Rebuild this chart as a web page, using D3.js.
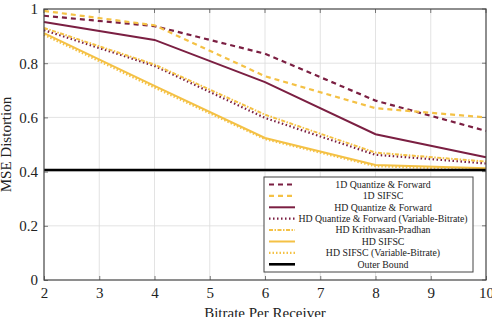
<!DOCTYPE html>
<html>
<head>
<meta charset="utf-8">
<script src="https://cdn.jsdelivr.net/npm/d3@7"></script>
<style>
  body { margin: 0; background: #fff; }
  svg text { font-family: "Liberation Serif", "DejaVu Serif", serif; fill: #222; }
</style>
</head>
<body>
<div id="chart"></div>
<script>
// bitrate values (x)
const bitrates = [2, 4, 6, 8, 10];
const xTicks = [2, 3, 4, 5, 6, 7, 8, 9, 10];
const yTicks = [0, 0.2, 0.4, 0.6, 0.8, 1];

// series values
const qf1d = [0.975, 0.937, 0.835, 0.662, 0.55];
const sifsc1d = [0.993, 0.94, 0.752, 0.634, 0.6];
const qfHd = [0.952, 0.886, 0.73, 0.538, 0.453];
const qfHdVb = [0.922, 0.79, 0.598, 0.462, 0.43];
const kpHd = [0.93, 0.795, 0.61, 0.47, 0.437];
const sifscHd = [0.911, 0.716, 0.524, 0.424, 0.412];
const sifscHdVb = [0.905, 0.71, 0.52, 0.42, 0.407];
const outerBound = [0.406, 0.406, 0.406, 0.406, 0.406];

const red = "#7b1f42", yellow = "#f4c145";

const series = [
  {name: "1D Quantize & Forward", values: qf1d, color: red, dash: "5,4", w: 2.2},
  {name: "1D SIFSC", values: sifsc1d, color: yellow, dash: "5,4", w: 2.2},
  {name: "HD Quantize & Forward", values: qfHd, color: red, dash: null, w: 2},
  {name: "HD Quantize & Forward (Variable-Bitrate)", values: qfHdVb, color: red, dash: "1.5,2.5", w: 2.2},
  {name: "HD Krithvasan-Pradhan", values: kpHd, color: yellow, dash: "4,1.5,1.5,1.5", w: 2},
  {name: "HD SIFSC", values: sifscHd, color: yellow, dash: null, w: 2},
  {name: "HD SIFSC (Variable-Bitrate)", values: sifscHdVb, color: yellow, dash: "1.5,2", w: 2.2},
  {name: "Outer Bound", values: outerBound, color: "#000", dash: null, w: 2.6}
];

const W = 492, H = 317;
const margin = {top: 9, right: 6, bottom: 37, left: 44};
const width = W - margin.left - margin.right;
const height = H - margin.top - margin.bottom;
const serif = "Liberation Serif, DejaVu Serif, serif";

const svg = d3.select("#chart").append("svg")
    .attr("width", W)
    .attr("height", H)
  .append("g")
    .attr("transform", "translate(" + margin.left + "," + margin.top + ")");

const x = d3.scaleLinear().domain([2, 10]).range([0, width]);
const y = d3.scaleLinear().domain([0, 1]).range([height, 0]);

// grid
svg.append("g").selectAll("line.vg")
    .data(xTicks.slice(1, -1))
    .join("line")
    .attr("x1", d => x(d)).attr("x2", d => x(d))
    .attr("y1", 0).attr("y2", height)
    .attr("stroke", "#dcdcdc").attr("stroke-width", 0.8);
svg.append("g").selectAll("line.hg")
    .data(yTicks.slice(1, -1))
    .join("line")
    .attr("x1", 0).attr("x2", width)
    .attr("y1", d => y(d)).attr("y2", d => y(d))
    .attr("stroke", "#dcdcdc").attr("stroke-width", 0.8);

// axes
const xAxis = d3.axisBottom(x).tickValues(xTicks).tickSize(-4).tickPadding(7).tickFormat(d3.format("d"));
const yAxis = d3.axisLeft(y).tickValues(yTicks).tickSize(-4).tickPadding(6).tickFormat(d => d === 0 || d === 1 ? d : d.toFixed(1));

svg.append("g")
    .attr("transform", "translate(0," + height + ")")
    .call(xAxis)
    .attr("font-family", serif)
    .attr("font-size", 15)
    .call(g => g.select(".domain").remove())
    .call(g => g.selectAll(".tick line").attr("stroke", "#777"))
    .call(g => g.selectAll("text").attr("fill", "#222"));

svg.append("g")
    .call(yAxis)
    .attr("font-family", serif)
    .attr("font-size", 15)
    .call(g => g.select(".domain").remove())
    .call(g => g.selectAll(".tick line").attr("stroke", "#777"))
    .call(g => g.selectAll("text").attr("fill", "#222"));

// top/right ticks
svg.append("g").selectAll("line")
    .data(xTicks)
    .join("line")
    .attr("x1", d => x(d)).attr("x2", d => x(d))
    .attr("y1", 0).attr("y2", 4)
    .attr("stroke", "#777");
svg.append("g").selectAll("line")
    .data(yTicks)
    .join("line")
    .attr("x1", width).attr("x2", width - 4)
    .attr("y1", d => y(d)).attr("y2", d => y(d))
    .attr("stroke", "#777");

// lines
const line = d3.line()
    .x((d, i) => x(bitrates[i]))
    .y(d => y(d));

svg.append("g").selectAll("path")
    .data(series)
    .join("path")
    .attr("fill", "none")
    .attr("stroke", d => d.color)
    .attr("stroke-width", d => d.w)
    .attr("stroke-dasharray", d => d.dash)
    .attr("d", d => line(d.values));

// frame
svg.append("rect")
    .attr("width", width).attr("height", height)
    .attr("fill", "none")
    .attr("stroke", "#444").attr("stroke-width", 1.2);

// axis titles
svg.append("text")
    .attr("x", width / 2)
    .attr("y", height + 38)
    .attr("text-anchor", "middle")
    .attr("font-size", 15)
    .text("Bitrate Per Receiver");

svg.append("text")
    .attr("transform", "translate(" + (-33) + "," + (height / 2) + ") rotate(-90)")
    .attr("text-anchor", "middle")
    .attr("font-size", 15)
    .text("MSE Distortion");

// legend
const legend = svg.append("g")
    .attr("transform", "translate(" + (264 - margin.left) + "," + (177 - margin.top) + ")");

legend.append("rect")
    .attr("width", 209).attr("height", 95)
    .attr("fill", "#fff")
    .attr("stroke", "#444").attr("stroke-width", 1);

const rows = legend.selectAll("g.row")
    .data(series)
    .join("g")
    .attr("transform", (d, i) => "translate(0," + (7.5 + i * 11.4) + ")");

rows.append("line")
    .attr("x1", 5).attr("x2", 31)
    .attr("y1", 0).attr("y2", 0)
    .attr("stroke", d => d.color)
    .attr("stroke-width", d => d.w)
    .attr("stroke-dasharray", d => d.dash);

rows.append("text")
    .attr("x", 119)
    .attr("y", 3.3)
    .attr("text-anchor", "middle")
    .attr("font-size", 9.8)
    .text(d => d.name);
</script>
</body>
</html>
